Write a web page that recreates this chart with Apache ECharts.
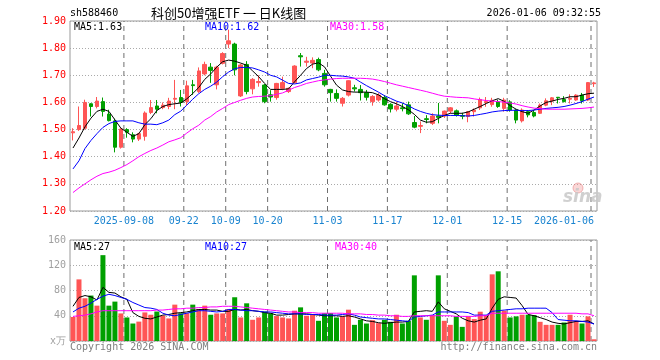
<!DOCTYPE html>
<html><head><meta charset="utf-8">
<script src="https://cdn.jsdelivr.net/npm/echarts@6/dist/echarts.min.js"></script>
<style>html,body{margin:0;padding:0;background:#fff}#c{width:660px;height:360px}</style>
</head><body><div id="c"></div>
<script>
const dates = [
 '2025-08-26','2025-08-27','2025-08-28','2025-08-29','2025-09-01','2025-09-02','2025-09-03','2025-09-04','2025-09-05','2025-09-08',
 '2025-09-09','2025-09-10','2025-09-11','2025-09-12','2025-09-15','2025-09-16','2025-09-17','2025-09-18','2025-09-19','2025-09-22',
 '2025-09-23','2025-09-24','2025-09-25','2025-09-26','2025-09-29','2025-09-30','2025-10-09','2025-10-10','2025-10-13','2025-10-14',
 '2025-10-15','2025-10-16','2025-10-17','2025-10-20','2025-10-21','2025-10-22','2025-10-23','2025-10-24','2025-10-27','2025-10-28',
 '2025-10-29','2025-10-30','2025-10-31','2025-11-03','2025-11-04','2025-11-05','2025-11-06','2025-11-07','2025-11-10','2025-11-11',
 '2025-11-12','2025-11-13','2025-11-14','2025-11-17','2025-11-18','2025-11-19','2025-11-20','2025-11-21','2025-11-24','2025-11-25',
 '2025-11-26','2025-11-27','2025-11-28','2025-12-01','2025-12-02','2025-12-03','2025-12-04','2025-12-05','2025-12-08','2025-12-09',
 '2025-12-10','2025-12-11','2025-12-12','2025-12-15','2025-12-16','2025-12-17','2025-12-18','2025-12-19','2025-12-22','2025-12-23',
 '2025-12-24','2025-12-25','2025-12-26','2025-12-29','2025-12-30','2025-12-31','2026-01-05','2026-01-06'];
const opens = [
 1.488,1.50,1.505,1.595,1.585,1.603,1.557,1.532,1.435,1.50,
 1.481,1.465,1.475,1.563,1.587,1.581,1.585,1.612,1.618,1.603,
 1.665,1.64,1.705,1.73,1.665,1.744,1.815,1.815,1.624,1.74,
 1.65,1.673,1.664,1.628,1.618,1.652,1.64,1.673,1.772,1.748,
 1.745,1.758,1.707,1.648,1.633,1.597,1.627,1.654,1.648,1.636,
 1.603,1.609,1.618,1.593,1.575,1.58,1.591,1.526,1.512,1.54,
 1.523,1.55,1.55,1.568,1.569,1.552,1.548,1.566,1.58,1.60,
 1.592,1.602,1.578,1.602,1.572,1.532,1.566,1.563,1.56,1.59,
 1.605,1.619,1.611,1.612,1.609,1.627,1.609,1.669];
const closes = [
 1.492,1.515,1.60,1.585,1.605,1.567,1.533,1.435,1.502,1.49,
 1.465,1.485,1.561,1.581,1.575,1.59,1.605,1.615,1.60,1.661,
 1.662,1.716,1.74,1.718,1.73,1.78,1.827,1.72,1.738,1.64,
 1.685,1.677,1.603,1.62,1.67,1.673,1.652,1.734,1.768,1.752,
 1.755,1.72,1.665,1.636,1.615,1.615,1.68,1.65,1.636,1.619,
 1.622,1.627,1.591,1.576,1.587,1.577,1.558,1.509,1.515,1.537,
 1.55,1.545,1.568,1.58,1.553,1.549,1.566,1.572,1.611,1.603,
 1.608,1.585,1.609,1.572,1.535,1.572,1.554,1.55,1.59,1.606,
 1.617,1.617,1.603,1.615,1.627,1.606,1.673,1.672];
const lows = [
 1.46,1.495,1.50,1.548,1.578,1.548,1.53,1.416,1.43,1.47,
 1.453,1.458,1.459,1.557,1.56,1.575,1.575,1.575,1.585,1.59,
 1.628,1.635,1.70,1.672,1.648,1.74,1.80,1.70,1.62,1.63,
 1.63,1.658,1.597,1.603,1.61,1.645,1.635,1.67,1.732,1.732,
 1.726,1.715,1.658,1.603,1.603,1.585,1.622,1.64,1.607,1.607,
 1.588,1.603,1.588,1.563,1.567,1.567,1.554,1.505,1.487,1.523,
 1.517,1.523,1.543,1.56,1.548,1.538,1.527,1.548,1.572,1.584,
 1.584,1.58,1.566,1.566,1.523,1.526,1.545,1.545,1.558,1.586,
 1.59,1.596,1.60,1.596,1.606,1.596,1.605,1.657];
const highs = [
 1.505,1.585,1.61,1.597,1.62,1.618,1.573,1.54,1.505,1.505,
 1.49,1.488,1.567,1.609,1.609,1.60,1.617,1.683,1.646,1.68,
 1.683,1.729,1.75,1.745,1.735,1.785,1.868,1.82,1.742,1.752,
 1.69,1.70,1.668,1.645,1.672,1.695,1.655,1.737,1.782,1.768,
 1.766,1.765,1.72,1.65,1.648,1.62,1.682,1.665,1.664,1.646,
 1.627,1.634,1.627,1.597,1.603,1.597,1.603,1.55,1.53,1.553,
 1.56,1.598,1.57,1.583,1.574,1.562,1.568,1.578,1.618,1.62,
 1.617,1.61,1.617,1.608,1.575,1.578,1.572,1.57,1.596,1.615,
 1.62,1.62,1.623,1.63,1.63,1.635,1.675,1.676];
const ma5 = [
 1.432,1.469,1.51,1.542,1.567,1.575,1.567,1.536,1.505,1.49,
 1.475,1.485,1.518,1.54,1.57,1.585,1.592,1.595,1.598,1.613,
 1.633,1.655,1.685,1.705,1.73,1.75,1.756,1.752,1.745,1.737,
 1.716,1.695,1.67,1.648,1.648,1.648,1.65,1.676,1.70,1.725,
 1.741,1.746,1.731,1.697,1.664,1.646,1.64,1.638,1.638,1.638,
 1.636,1.628,1.614,1.603,1.595,1.585,1.573,1.556,1.535,1.527,
 1.529,1.541,1.552,1.56,1.56,1.56,1.565,1.575,1.585,1.596,
 1.606,1.614,1.604,1.588,1.575,1.566,1.56,1.572,1.587,1.60,
 1.605,1.611,1.615,1.621,1.621,1.627,1.632,1.634];
const ma10 = [
 1.355,1.385,1.43,1.46,1.485,1.508,1.522,1.53,1.532,1.532,
 1.532,1.525,1.52,1.52,1.518,1.525,1.535,1.555,1.568,1.59,
 1.612,1.632,1.648,1.66,1.675,1.695,1.712,1.724,1.729,1.729,
 1.727,1.72,1.712,1.70,1.694,1.682,1.67,1.668,1.672,1.683,
 1.688,1.693,1.70,1.70,1.698,1.697,1.694,1.689,1.675,1.662,
 1.65,1.638,1.625,1.615,1.605,1.598,1.588,1.576,1.567,1.56,
 1.555,1.553,1.552,1.552,1.552,1.551,1.55,1.552,1.556,1.56,
 1.565,1.568,1.57,1.571,1.571,1.57,1.57,1.572,1.575,1.578,
 1.58,1.582,1.585,1.59,1.596,1.603,1.612,1.62];
const ma30 = [
 1.268,1.285,1.30,1.315,1.328,1.338,1.343,1.35,1.36,1.371,
 1.385,1.40,1.412,1.423,1.432,1.443,1.455,1.462,1.47,1.487,
 1.503,1.516,1.535,1.548,1.565,1.578,1.592,1.60,1.608,1.615,
 1.62,1.622,1.623,1.625,1.63,1.635,1.645,1.655,1.662,1.67,
 1.675,1.68,1.683,1.686,1.688,1.689,1.689,1.689,1.689,1.688,
 1.686,1.682,1.677,1.671,1.665,1.66,1.655,1.65,1.645,1.64,
 1.634,1.628,1.623,1.621,1.619,1.618,1.617,1.613,1.61,1.607,
 1.605,1.603,1.601,1.598,1.594,1.588,1.583,1.579,1.577,1.575,
 1.575,1.575,1.575,1.576,1.577,1.578,1.58,1.583];
const volumes = [
 38,97.6,67.7,72,56,136,56,62.4,43.7,37.3,
 27.7,30.7,45.3,41.6,46.7,40,35.7,57.6,44,44,
 57.6,50.7,56,41.6,43.7,43.7,50.7,69.3,37.3,59.7,
 33.6,37.3,46.7,44,39.5,37.3,35.7,48,53.3,40,
 42,32,44,44.3,37.3,39,49.6,25.6,33.6,27.7,
 33,28.3,33.6,30.4,41.6,27.7,32,104,37.3,33.6,
 41,104,32,25.6,39,22.4,39,34.7,46.4,41,
 105.6,110.4,48,37.3,39,41.6,41.6,41,30.4,25.6,
 25.6,25.6,29.3,41.6,32,27.7,39,2.7];
const volMa5 = [
 55,69,72,70,65,85,77,76,70,66,
 45,39,36,35,38,41,42,44,45,46,
 48,50,50,49,49,47,47,50,49,50,
 48,47,45,44,41,41,42,43,43,43,
 42,41,40,40,40,39,40,38,35,32,
 31,29,28,29,30,30,31,46,47,48,
 47,62,51,47,43,36,32,30,33,35,
 52,66,70,69,68,56,42,40,37,34,
 30,28,27,29,31,31,32,27];
const volMa10 = [
 46,52,55,60,66,71,74,72,69,66,
 61,57,53,52,50,44,41,40,42,44,
 46,48,48,47,46,47,50,50,49,48,
 48,47,46,46,45,44,43,43,43,42,
 42,42,41,41,41,42,43,41,38,37,
 36,35,35,34,33,32,31,38,39,40,
 41,46,46,46,46,46,45,41,41,41,
 47,48,49,50,51,51,52,52,52,52,
 45,34,33,32,32,31,30,27];
const volMa30 = [
 39,40,41,43,46,48,48,48,48,48,
 48,48,48,48,49,49,50,51,51,52,
 52,53,53,54,54,55,55,55,54,53,
 52,51,50,49,48,47,46,46,45,45,
 45,44,44,44,44,44,43,43,43,42,
 42,41,41,40,40,39,39,40,40,40,
 40,40,40,40,39,39,39,39,40,40,
 44,44,44,44,44,44,44,44,44,44,
 44,44,44,44,44,43,43,40];
const priceTicks = [1.2,1.3,1.4,1.5,1.6,1.7,1.8,1.9];
const volTicks = [0,40,80,120,160];
const markIdx = [9,19,26,33,43,53,63,73,87];

const MONO = '"DejaVu Sans Mono","Liberation Mono",monospace';
const RED = '#ff5555', GREEN = '#00a000';
const markSet = new Set(markIdx);

const chart = echarts.init(document.getElementById('c'), null, {renderer:'canvas'});
const candleData = dates.map((d,i)=>[opens[i],closes[i],lows[i],highs[i]]);
const volData = volumes.map((v,i)=>({value:v, itemStyle:{color: closes[i]>=opens[i]?RED:GREEN}}));
const lineS = (name, data, color, xi, yi)=>({name, type:'line', data, xAxisIndex:xi, yAxisIndex:yi, showSymbol:false, symbol:'none', lineStyle:{color, width:1}, itemStyle:{color}, silent:true, z:5});
const sepSeries = (xi, yi, lo, hi)=>({type:'line', name:'sep'+xi, xAxisIndex:xi, yAxisIndex:yi, silent:true, z:1,
  showSymbol:false, symbol:'none', connectNulls:false,
  lineStyle:{color:'#6f6f6f', type:[5,4], width:1},
  data: markIdx.flatMap(i=>[[i, lo],[i, hi],[i, null]])});

const txt = (text, x, y, color, opts={}) => ({type:'text', x, y, z:100, style:Object.assign({text, fill:color, font:'10px '+MONO, align:'left', verticalAlign:'middle'}, opts)});

chart.setOption({
  animation:false,
  backgroundColor:'#ffffff',
  grid:[
    {left:70, right:63, top:21, height:190, show:true, borderColor:'#999', borderWidth:1, backgroundColor:'transparent', outerBoundsMode:'none'},
    {left:70, right:63, top:240, height:101, show:true, borderColor:'#999', borderWidth:1, backgroundColor:'transparent', outerBoundsMode:'none'}
  ],
  xAxis:[
    {type:'category', gridIndex:0, data:dates, boundaryGap:true,
     axisLine:{show:false}, axisTick:{show:false},
     axisLabel:{show:true, interval:(i)=>markSet.has(i), margin:5, hideOverlap:false,
       formatter:(v,i)=>{ const lab=(i===9||i===87)?v:v.slice(5); return i===87?'{e|'+lab+'}':'{n|'+lab+'}'; },
       rich:{ n:{fontFamily:MONO, fontSize:10, color:'#1a84d0', padding:[0,6,0,0]},
              e:{fontFamily:MONO, fontSize:10, color:'#1a84d0', padding:[0,60,0,0]} }},
     splitLine:{show:false}},
    {type:'category', gridIndex:1, data:dates, boundaryGap:true,
     axisLine:{show:false}, axisTick:{show:false}, axisLabel:{show:false}, splitLine:{show:false}},
    {type:'value', gridIndex:0, min:0, max:dates.length, show:false, axisLabel:{show:false}, splitLine:{show:false}},
    {type:'value', gridIndex:1, min:0, max:dates.length, show:false, axisLabel:{show:false}, splitLine:{show:false}}
  ],
  yAxis:[
    {type:'value', gridIndex:0, min:priceTicks[0], max:priceTicks[priceTicks.length-1], interval:0.1,
     axisLine:{show:false}, axisTick:{show:false},
     axisLabel:{color:'#ff0000', fontFamily:MONO, fontSize:10, margin:4, formatter:(v)=>v.toFixed(2)},
     splitLine:{show:true, lineStyle:{color:'#aaaaaa', type:[1,2], width:1}}},
    {type:'value', gridIndex:1, min:volTicks[0], max:volTicks[volTicks.length-1], interval:40,
     axisLine:{show:false}, axisTick:{show:false},
     axisLabel:{color:'#a0a0a0', fontFamily:MONO, fontSize:10, margin:4, formatter:(v)=>v===0?'x万':String(v)},
     splitLine:{show:true, lineStyle:{color:'#aaaaaa', type:[1,2], width:1}}}
  ],
  series:[
    sepSeries(2, 0, priceTicks[0], priceTicks[priceTicks.length-1]),
    sepSeries(3, 1, volTicks[0], volTicks[volTicks.length-1]),
    {type:'candlestick', name:'K', data:candleData, xAxisIndex:0, yAxisIndex:0, barWidth:4,
     itemStyle:{color:RED, color0:GREEN, borderColor:RED, borderColor0:GREEN, borderWidth:1}, z:3},
    lineS('MA5', ma5, '#000000', 0, 0),
    lineS('MA10', ma10, '#0000ff', 0, 0),
    lineS('MA30', ma30, '#ff00ff', 0, 0),
    {type:'bar', name:'VOL', data:volData, xAxisIndex:1, yAxisIndex:1, barWidth:5, z:3},
    lineS('VMA5', volMa5, '#000000', 1, 1),
    lineS('VMA10', volMa10, '#0000ff', 1, 1),
    lineS('VMA30', volMa30, '#ff00ff', 1, 1)
  ],
  graphic:[
    txt('sh588460', 70, 13, '#000'),
    txt('科创50增强ETF 一 日K线图', 151, 13, '#000', {font:'13px "Noto Sans CJK SC", sans-serif'}),
    txt('2026-01-06 09:32:55', 601, 13, '#000', {align:'right'}),
    txt('MA5:1.63', 74, 27, '#000'),
    txt('MA10:1.62', 205, 27, '#0000ff'),
    txt('MA30:1.58', 330, 27, '#ff00ff'),
    txt('MA5:27', 74, 247, '#000'),
    txt('MA10:27', 205, 247, '#0000ff'),
    txt('MA30:40', 335, 247, '#ff00ff'),
    txt('Copyright 2026 SINA.COM', 70, 347, '#808080'),
    txt('http://finance.sina.com.cn', 597, 347, '#808080', {align:'right'}),
    {type:'circle', shape:{cx:578, cy:188, r:5}, z:2, style:{fill:'rgba(240,140,140,0.35)', stroke:'rgba(230,120,120,0.5)', lineWidth:1}},
    txt('sina', 563, 198, 'rgba(200,200,200,0.85)', {font:'italic bold 17px "DejaVu Sans", sans-serif', z:2})
  ]
});
</script></body></html>
